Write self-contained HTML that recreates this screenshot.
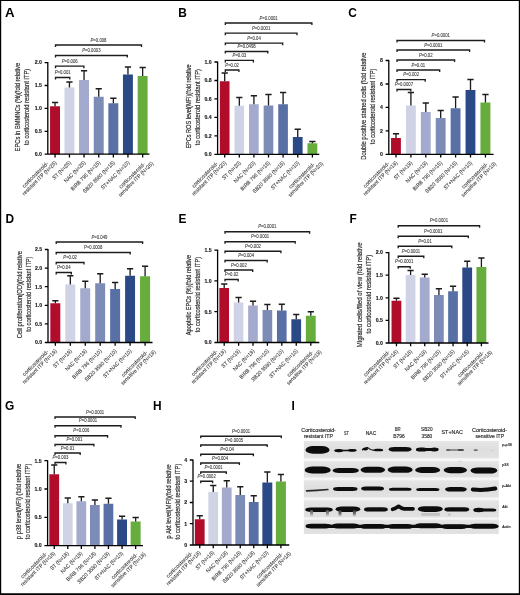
<!DOCTYPE html>
<html><head><meta charset="utf-8"><title>Figure</title>
<style>
html,body{margin:0;padding:0;background:#fff;}
body{width:520px;height:595px;overflow:hidden;font-family:"Liberation Sans",sans-serif;}
svg{display:block;will-change:transform;}
svg text{font-family:"Liberation Sans",sans-serif;}
.L{font-size:11.9px;font-weight:bold;fill:#000;}
.T{font-size:5.2px;font-weight:bold;fill:#161616;stroke:#161616;stroke-width:0.12;text-anchor:end;}
.P{font-size:4.9px;fill:#333;stroke:#333;stroke-width:0.08;text-anchor:middle;}
.I{font-style:italic;}
.Y{font-size:7.0px;fill:#303030;stroke:#303030;stroke-width:0.2;text-anchor:middle;}
.X{font-size:5.4px;fill:#3a3a3a;stroke:#3a3a3a;stroke-width:0.1;text-anchor:end;}
.H{font-size:4.9px;fill:#2a2a2a;stroke:#2a2a2a;stroke-width:0.15;text-anchor:middle;}
.R{font-size:3.7px;fill:#222;stroke:#222;stroke-width:0.15;}
.A{fill:none;stroke:#000;stroke-width:1.3;}
.E{fill:none;stroke:#1a1a1a;stroke-width:1.3;}
.B{fill:none;stroke:#1a1a1a;stroke-width:1.3;}
</style></head><body>
<svg width="520" height="595" viewBox="0 0 520 595">
<defs><filter id="bl" x="-5%" y="-5%" width="110%" height="110%"><feGaussianBlur stdDeviation="0.6"/></filter>
<filter id="soft" x="0" y="0" width="520" height="595" filterUnits="userSpaceOnUse"><feGaussianBlur stdDeviation="0.3"/></filter>
<filter id="bl2" x="-20%" y="-20%" width="140%" height="140%"><feGaussianBlur stdDeviation="0.7"/></filter>
<linearGradient id="sm1" x1="0" y1="0" x2="0" y2="1"><stop offset="0" stop-color="#555"/><stop offset="0.5" stop-color="#8a8a8a"/><stop offset="1" stop-color="#d8d8d8"/></linearGradient>
<linearGradient id="sm2" x1="0" y1="0" x2="0" y2="1"><stop offset="0" stop-color="#333"/><stop offset="0.5" stop-color="#666"/><stop offset="1" stop-color="#cfcfcf"/></linearGradient>
<linearGradient id="sg" x1="0" y1="0" x2="0" y2="1"><stop offset="0" stop-color="#e6e6e6"/><stop offset="0.5" stop-color="#dedede"/><stop offset="1" stop-color="#e2e2e2"/></linearGradient></defs>
<rect x="0" y="0" width="520" height="595" fill="#fff"/>
<g filter="url(#soft)">
<g>
<text x="4.9" y="16.9" class="L" textLength="9.6" lengthAdjust="spacingAndGlyphs">A</text>
<rect x="50.05" y="106.25" width="9.95" height="47.95" fill="#b10a2c"/>
<path d="M55.05 106.25V102.5M51.95 102.5H58.15" class="E"/>
<rect x="64.45" y="87.5" width="9.95" height="66.7" fill="#d0d3e5"/>
<path d="M69.45 87.5V82M66.35 82H72.55" class="E"/>
<rect x="79.05" y="80" width="9.95" height="74.2" fill="#a4aacd"/>
<path d="M84.05 80V70.75M80.95 70.75H87.15" class="E"/>
<rect x="93.75" y="96.75" width="9.95" height="57.45" fill="#7d8cb6"/>
<path d="M98.75 96.75V88.75M95.65 88.75H101.85" class="E"/>
<rect x="108.35" y="103.25" width="9.95" height="50.95" fill="#5870a5"/>
<path d="M113.35 103.25V98.25M110.25 98.25H116.45" class="E"/>
<rect x="122.95" y="74.5" width="9.95" height="79.7" fill="#2a4a86"/>
<path d="M127.95 74.5V67M124.85 67H131.05" class="E"/>
<rect x="137.65" y="76" width="9.95" height="78.2" fill="#66ad3c"/>
<path d="M142.65 76V67.5M139.55 67.5H145.75" class="E"/>
<path d="M47.8 62.1V154.2H149.5M47.8 154.2H44.6M47.8 131.3H44.6M47.8 108.4H44.6M47.8 85.5H44.6M47.8 62.6H44.6M55.05 154.2V157.5M69.45 154.2V157.5M84.05 154.2V157.5M98.75 154.2V157.5M113.35 154.2V157.5M127.95 154.2V157.5M142.65 154.2V157.5" class="A"/>
<text x="41.9" y="156.05" class="T">0.0</text>
<text x="41.9" y="133.15" class="T">0.5</text>
<text x="41.9" y="110.25" class="T">1.0</text>
<text x="41.9" y="87.35" class="T">1.5</text>
<text x="41.9" y="64.45" class="T">2.0</text>
<path d="M55.5 47.1V45H141.5V47.1" class="B"/>
<text x="98.5" y="41.6" class="P" textLength="15.95" lengthAdjust="spacingAndGlyphs"><tspan class="I">P</tspan>=0.008</text>
<path d="M55.5 57.6V55.5H127.3V57.6" class="B"/>
<text x="91.4" y="52.1" class="P" textLength="18.31" lengthAdjust="spacingAndGlyphs"><tspan class="I">P</tspan>=0.0003</text>
<path d="M55.5 68.3V66.2H83.9V68.3" class="B"/>
<text x="69.7" y="62.8" class="P" textLength="15.95" lengthAdjust="spacingAndGlyphs"><tspan class="I">P</tspan>=0.006</text>
<path d="M55.5 79.6V77.5H69.8V79.6" class="B"/>
<text x="62.65" y="74.1" class="P" textLength="15.95" lengthAdjust="spacingAndGlyphs"><tspan class="I">P</tspan>=0.001</text>
<text transform="translate(20.1 107.15) rotate(-90)" class="Y" textLength="88.5" lengthAdjust="spacingAndGlyphs">EPCs in BMMNCs (%)(fold relative</text>
<text transform="translate(28.8 106.9) rotate(-90)" class="Y" textLength="76.2" lengthAdjust="spacingAndGlyphs">to corticosteroid resistant ITP)</text>
<text transform="translate(48.75 163.7) rotate(-45)" class="X" textLength="34.65" lengthAdjust="spacingAndGlyphs">corticosteroid-</text>
<text transform="translate(56.95 163.1) rotate(-45)" class="X" textLength="46.28" lengthAdjust="spacingAndGlyphs">resistant ITP (N=25)</text>
<text transform="translate(71.35 163.1) rotate(-45)" class="X" textLength="23.93" lengthAdjust="spacingAndGlyphs">ST (N=25)</text>
<text transform="translate(85.95 163.1) rotate(-45)" class="X" textLength="28.22" lengthAdjust="spacingAndGlyphs">NAC (N=25)</text>
<text transform="translate(100.65 163.1) rotate(-45)" class="X" textLength="39.41" lengthAdjust="spacingAndGlyphs">BIRB 796 (N=15)</text>
<text transform="translate(115.25 163.1) rotate(-45)" class="X" textLength="42.85" lengthAdjust="spacingAndGlyphs">SB20 3580 (N=15)</text>
<text transform="translate(129.85 163.1) rotate(-45)" class="X" textLength="37.83" lengthAdjust="spacingAndGlyphs">ST+NAC (N=10)</text>
<text transform="translate(145.45 164.5) rotate(-45)" class="X" textLength="34.65" lengthAdjust="spacingAndGlyphs">corticosteroid-</text>
<text transform="translate(153.65 163.9) rotate(-45)" class="X" textLength="46.86" lengthAdjust="spacingAndGlyphs">sensitive ITP (N=25)</text>
</g>
<g>
<text x="178.2" y="16.9" class="L">B</text>
<rect x="219.85" y="81.25" width="9.65" height="73.05" fill="#b10a2c"/>
<path d="M224.7 81.25V73M221.6 73H227.8" class="E"/>
<rect x="234.45" y="105.75" width="9.65" height="48.55" fill="#d0d3e5"/>
<path d="M239.3 105.75V97.5M236.2 97.5H242.4" class="E"/>
<rect x="249.05" y="104.25" width="9.65" height="50.05" fill="#a4aacd"/>
<path d="M253.9 104.25V95.75M250.8 95.75H257" class="E"/>
<rect x="263.65" y="105.5" width="9.65" height="48.8" fill="#7d8cb6"/>
<path d="M268.5 105.5V94.5M265.4 94.5H271.6" class="E"/>
<rect x="278.25" y="104.25" width="9.65" height="50.05" fill="#5870a5"/>
<path d="M283.1 104.25V92.5M280 92.5H286.2" class="E"/>
<rect x="292.85" y="137" width="9.75" height="17.3" fill="#2a4a86"/>
<path d="M297.75 137V129.25M294.65 129.25H300.85" class="E"/>
<rect x="307.45" y="143.25" width="9.85" height="11.05" fill="#66ad3c"/>
<path d="M312.4 143.25V141.5M309.3 141.5H315.5" class="E"/>
<path d="M217.6 61.5V154.3H319.3M217.6 154.3H214.4M217.6 135.8H214.4M217.6 117.4H214.4M217.6 98.9H214.4M217.6 80.5H214.4M217.6 62H214.4M224.7 154.3V157.6M239.3 154.3V157.6M253.9 154.3V157.6M268.5 154.3V157.6M283.1 154.3V157.6M297.75 154.3V157.6M312.4 154.3V157.6" class="A"/>
<text x="211.7" y="156.15" class="T">0.0</text>
<text x="211.7" y="137.65" class="T">0.2</text>
<text x="211.7" y="119.25" class="T">0.4</text>
<text x="211.7" y="100.75" class="T">0.6</text>
<text x="211.7" y="82.35" class="T">0.8</text>
<text x="211.7" y="63.85" class="T">1.0</text>
<path d="M225.3 25.1V23H311.9V25.1" class="B"/>
<text x="268.6" y="19.6" class="P" textLength="18.31" lengthAdjust="spacingAndGlyphs"><tspan class="I">P</tspan>=0.0001</text>
<path d="M225.3 35.3V33.2H297V35.3" class="B"/>
<text x="261.15" y="29.8" class="P" textLength="18.31" lengthAdjust="spacingAndGlyphs"><tspan class="I">P</tspan>=0.0001</text>
<path d="M225.3 45.3V43.2H282.7V45.3" class="B"/>
<text x="254" y="39.8" class="P" textLength="13.59" lengthAdjust="spacingAndGlyphs"><tspan class="I">P</tspan>=0.04</text>
<path d="M225.3 53.6V51.5H267.8V53.6" class="B"/>
<text x="246.55" y="48.1" class="P" textLength="18.31" lengthAdjust="spacingAndGlyphs"><tspan class="I">P</tspan>=0.0498</text>
<path d="M225.3 62.5V60.4H253.4V62.5" class="B"/>
<text x="239.35" y="57" class="P" textLength="13.59" lengthAdjust="spacingAndGlyphs"><tspan class="I">P</tspan>=0.03</text>
<path d="M225.3 72.1V70H238.9V72.1" class="B"/>
<text x="232.1" y="66.6" class="P" textLength="13.59" lengthAdjust="spacingAndGlyphs"><tspan class="I">P</tspan>=0.02</text>
<text transform="translate(191.3 106.55) rotate(-90)" class="Y" textLength="84.1" lengthAdjust="spacingAndGlyphs">EPCs ROS level(MFI)(fold relative</text>
<text transform="translate(200.2 107.1) rotate(-90)" class="Y" textLength="76.2" lengthAdjust="spacingAndGlyphs">to corticosteroid resistant ITP)</text>
<text transform="translate(218.4 163.8) rotate(-45)" class="X" textLength="34.65" lengthAdjust="spacingAndGlyphs">corticosteroid-</text>
<text transform="translate(226.6 163.2) rotate(-45)" class="X" textLength="46.28" lengthAdjust="spacingAndGlyphs">resistant ITP (N=20)</text>
<text transform="translate(241.2 163.2) rotate(-45)" class="X" textLength="23.93" lengthAdjust="spacingAndGlyphs">ST (N=20)</text>
<text transform="translate(255.8 163.2) rotate(-45)" class="X" textLength="28.22" lengthAdjust="spacingAndGlyphs">NAC (N=20)</text>
<text transform="translate(270.4 163.2) rotate(-45)" class="X" textLength="39.41" lengthAdjust="spacingAndGlyphs">BIRB 796 (N=15)</text>
<text transform="translate(285 163.2) rotate(-45)" class="X" textLength="42.85" lengthAdjust="spacingAndGlyphs">SB20 3580 (N=15)</text>
<text transform="translate(299.65 163.2) rotate(-45)" class="X" textLength="37.83" lengthAdjust="spacingAndGlyphs">ST+NAC (N=10)</text>
<text transform="translate(315.2 164.6) rotate(-45)" class="X" textLength="34.65" lengthAdjust="spacingAndGlyphs">corticosteroid-</text>
<text transform="translate(323.4 164) rotate(-45)" class="X" textLength="46.86" lengthAdjust="spacingAndGlyphs">sensitive ITP (N=20)</text>
</g>
<g>
<text x="348.3" y="16.9" class="L">C</text>
<rect x="391.05" y="138" width="9.85" height="16.3" fill="#b10a2c"/>
<path d="M396 138V133.75M392.9 133.75H399.1" class="E"/>
<rect x="405.95" y="105.5" width="9.85" height="48.8" fill="#d0d3e5"/>
<path d="M410.9 105.5V92.5M407.8 92.5H414" class="E"/>
<rect x="420.85" y="112" width="9.85" height="42.3" fill="#a4aacd"/>
<path d="M425.8 112V103M422.7 103H428.9" class="E"/>
<rect x="435.75" y="118" width="9.85" height="36.3" fill="#7d8cb6"/>
<path d="M440.7 118V110.5M437.6 110.5H443.8" class="E"/>
<rect x="450.65" y="108.25" width="9.85" height="46.05" fill="#5870a5"/>
<path d="M455.6 108.25V97M452.5 97H458.7" class="E"/>
<rect x="465.55" y="90" width="9.85" height="64.3" fill="#2a4a86"/>
<path d="M470.5 90V79.5M467.4 79.5H473.6" class="E"/>
<rect x="480.45" y="102.5" width="9.95" height="51.8" fill="#66ad3c"/>
<path d="M485.45 102.5V94.5M482.35 94.5H488.55" class="E"/>
<path d="M388.8 60V154.3H493.6M388.8 154.3H385.6M388.8 130.9H385.6M388.8 107.4H385.6M388.8 84H385.6M388.8 60.5H385.6M396 154.3V157.6M410.9 154.3V157.6M425.8 154.3V157.6M440.7 154.3V157.6M455.6 154.3V157.6M470.5 154.3V157.6M485.45 154.3V157.6" class="A"/>
<text x="382.9" y="156.15" class="T">0</text>
<text x="382.9" y="132.75" class="T">2</text>
<text x="382.9" y="109.25" class="T">4</text>
<text x="382.9" y="85.85" class="T">6</text>
<text x="382.9" y="62.35" class="T">8</text>
<path d="M397 42.6V40.5H484.5V42.6" class="B"/>
<text x="440.75" y="37.1" class="P" textLength="18.31" lengthAdjust="spacingAndGlyphs"><tspan class="I">P</tspan>=0.0001</text>
<path d="M397 52.1V50H469.6V52.1" class="B"/>
<text x="433.3" y="46.6" class="P" textLength="18.31" lengthAdjust="spacingAndGlyphs"><tspan class="I">P</tspan>=0.0001</text>
<path d="M397 62.1V60H454.6V62.1" class="B"/>
<text x="425.8" y="56.6" class="P" textLength="13.59" lengthAdjust="spacingAndGlyphs"><tspan class="I">P</tspan>=0.02</text>
<path d="M397 72.1V70H439.7V72.1" class="B"/>
<text x="418.35" y="66.6" class="P" textLength="13.59" lengthAdjust="spacingAndGlyphs"><tspan class="I">P</tspan>=0.01</text>
<path d="M397 81.7V79.6H425.2V81.7" class="B"/>
<text x="411.1" y="76.2" class="P" textLength="15.95" lengthAdjust="spacingAndGlyphs"><tspan class="I">P</tspan>=0.002</text>
<path d="M397 91.6V89.5H410.8V91.6" class="B"/>
<text x="403.9" y="86.1" class="P" textLength="18.31" lengthAdjust="spacingAndGlyphs"><tspan class="I">P</tspan>=0.0007</text>
<text transform="translate(365.5 106.15) rotate(-90)" class="Y" textLength="107.3" lengthAdjust="spacingAndGlyphs">Double positive stained cells (fold relative</text>
<text transform="translate(374.6 106.4) rotate(-90)" class="Y" textLength="75.6" lengthAdjust="spacingAndGlyphs">to corticosteroid resistant ITP)</text>
<text transform="translate(389.7 163.8) rotate(-45)" class="X" textLength="34.65" lengthAdjust="spacingAndGlyphs">corticosteroid-</text>
<text transform="translate(397.9 163.2) rotate(-45)" class="X" textLength="46.28" lengthAdjust="spacingAndGlyphs">resistant ITP (N=19)</text>
<text transform="translate(412.8 163.2) rotate(-45)" class="X" textLength="23.93" lengthAdjust="spacingAndGlyphs">ST (N=19)</text>
<text transform="translate(427.7 163.2) rotate(-45)" class="X" textLength="28.22" lengthAdjust="spacingAndGlyphs">NAC (N=19)</text>
<text transform="translate(442.6 163.2) rotate(-45)" class="X" textLength="39.41" lengthAdjust="spacingAndGlyphs">BIRB 796 (N=15)</text>
<text transform="translate(457.5 163.2) rotate(-45)" class="X" textLength="42.85" lengthAdjust="spacingAndGlyphs">SB20 3580 (N=15)</text>
<text transform="translate(472.4 163.2) rotate(-45)" class="X" textLength="37.83" lengthAdjust="spacingAndGlyphs">ST+NAC (N=10)</text>
<text transform="translate(488.25 164.6) rotate(-45)" class="X" textLength="34.65" lengthAdjust="spacingAndGlyphs">corticosteroid-</text>
<text transform="translate(496.45 164) rotate(-45)" class="X" textLength="46.86" lengthAdjust="spacingAndGlyphs">sensitive ITP (N=19)</text>
</g>
<g>
<text x="5.4" y="222.6" class="L">D</text>
<rect x="50.35" y="303.25" width="9.95" height="39.25" fill="#b10a2c"/>
<path d="M55.35 303.25V300.75M52.25 300.75H58.45" class="E"/>
<rect x="65.3" y="284.5" width="9.95" height="58" fill="#d0d3e5"/>
<path d="M70.3 284.5V275.75M67.2 275.75H73.4" class="E"/>
<rect x="80.25" y="288.25" width="9.95" height="54.25" fill="#a4aacd"/>
<path d="M85.25 288.25V281.25M82.15 281.25H88.35" class="E"/>
<rect x="95.2" y="283.25" width="9.95" height="59.25" fill="#7d8cb6"/>
<path d="M100.2 283.25V273.75M97.1 273.75H103.3" class="E"/>
<rect x="110.15" y="289" width="9.95" height="53.5" fill="#5870a5"/>
<path d="M115.15 289V282.5M112.05 282.5H118.25" class="E"/>
<rect x="125.1" y="275.75" width="9.95" height="66.75" fill="#2a4a86"/>
<path d="M130.1 275.75V268.75M127 268.75H133.2" class="E"/>
<rect x="140.05" y="276.25" width="10.05" height="66.25" fill="#66ad3c"/>
<path d="M145.1 276.25V266.25M142 266.25H148.2" class="E"/>
<path d="M48 249V342.5H152.5M48 342.5H44.8M48 323.9H44.8M48 305.3H44.8M48 286.7H44.8M48 268.1H44.8M48 249.5H44.8M55.35 342.5V345.8M70.3 342.5V345.8M85.25 342.5V345.8M100.2 342.5V345.8M115.15 342.5V345.8M130.1 342.5V345.8M145.1 342.5V345.8" class="A"/>
<text x="42.1" y="344.35" class="T">0.0</text>
<text x="42.1" y="325.75" class="T">0.5</text>
<text x="42.1" y="307.15" class="T">1.0</text>
<text x="42.1" y="288.55" class="T">1.5</text>
<text x="42.1" y="269.95" class="T">2.0</text>
<text x="42.1" y="251.35" class="T">2.5</text>
<path d="M56.2 244.1V242H142.6V244.1" class="B"/>
<text x="99.4" y="238.6" class="P" textLength="15.95" lengthAdjust="spacingAndGlyphs"><tspan class="I">P</tspan>=0.049</text>
<path d="M56.2 254.6V252.5H130.2V254.6" class="B"/>
<text x="93.2" y="249.1" class="P" textLength="18.31" lengthAdjust="spacingAndGlyphs"><tspan class="I">P</tspan>=0.0008</text>
<path d="M56.2 264.6V262.5H84V264.6" class="B"/>
<text x="70.1" y="259.1" class="P" textLength="13.59" lengthAdjust="spacingAndGlyphs"><tspan class="I">P</tspan>=0.02</text>
<path d="M56.2 274.6V272.5H71.3V274.6" class="B"/>
<text x="63.75" y="269.1" class="P" textLength="13.59" lengthAdjust="spacingAndGlyphs"><tspan class="I">P</tspan>=0.04</text>
<text transform="translate(21.6 294.6) rotate(-90)" class="Y" textLength="87.2" lengthAdjust="spacingAndGlyphs">Cell proliferation(OD)(fold relative</text>
<text transform="translate(30.7 294.1) rotate(-90)" class="Y" textLength="75.2" lengthAdjust="spacingAndGlyphs">to corticosteroid resistant ITP)</text>
<text transform="translate(49.05 352) rotate(-45)" class="X" textLength="34.65" lengthAdjust="spacingAndGlyphs">corticosteroid-</text>
<text transform="translate(57.25 351.4) rotate(-45)" class="X" textLength="46.28" lengthAdjust="spacingAndGlyphs">resistant ITP (N=19)</text>
<text transform="translate(72.2 351.4) rotate(-45)" class="X" textLength="23.93" lengthAdjust="spacingAndGlyphs">ST (N=19)</text>
<text transform="translate(87.15 351.4) rotate(-45)" class="X" textLength="28.22" lengthAdjust="spacingAndGlyphs">NAC (N=19)</text>
<text transform="translate(102.1 351.4) rotate(-45)" class="X" textLength="39.41" lengthAdjust="spacingAndGlyphs">BIRB 796 (N=10)</text>
<text transform="translate(117.05 351.4) rotate(-45)" class="X" textLength="42.85" lengthAdjust="spacingAndGlyphs">SB20 3580 (N=10)</text>
<text transform="translate(132 351.4) rotate(-45)" class="X" textLength="37.83" lengthAdjust="spacingAndGlyphs">ST+NAC (N=10)</text>
<text transform="translate(147.9 352.8) rotate(-45)" class="X" textLength="34.65" lengthAdjust="spacingAndGlyphs">corticosteroid-</text>
<text transform="translate(156.1 352.2) rotate(-45)" class="X" textLength="46.86" lengthAdjust="spacingAndGlyphs">sensitive ITP (N=19)</text>
</g>
<g>
<text x="178.4" y="222.7" class="L">E</text>
<rect x="219.35" y="288" width="9.65" height="54.5" fill="#b10a2c"/>
<path d="M224.2 288V284M221.1 284H227.3" class="E"/>
<rect x="233.75" y="302.5" width="9.65" height="40" fill="#d0d3e5"/>
<path d="M238.6 302.5V297.5M235.5 297.5H241.7" class="E"/>
<rect x="248.15" y="305.5" width="9.65" height="37" fill="#a4aacd"/>
<path d="M253 305.5V301.25M249.9 301.25H256.1" class="E"/>
<rect x="262.55" y="310" width="9.65" height="32.5" fill="#7d8cb6"/>
<path d="M267.4 310V304.5M264.3 304.5H270.5" class="E"/>
<rect x="276.95" y="310.5" width="9.65" height="32" fill="#5870a5"/>
<path d="M281.8 310.5V304.25M278.7 304.25H284.9" class="E"/>
<rect x="291.35" y="319.25" width="9.75" height="23.25" fill="#2a4a86"/>
<path d="M296.25 319.25V314.5M293.15 314.5H299.35" class="E"/>
<rect x="305.85" y="315.75" width="9.85" height="26.75" fill="#66ad3c"/>
<path d="M310.8 315.75V311.75M307.7 311.75H313.9" class="E"/>
<path d="M217.6 249.6V342.5H319.3M217.6 342.5H214.4M217.6 311.7H214.4M217.6 280.9H214.4M217.6 250.1H214.4M224.2 342.5V345.8M238.6 342.5V345.8M253 342.5V345.8M267.4 342.5V345.8M281.8 342.5V345.8M296.25 342.5V345.8M310.8 342.5V345.8" class="A"/>
<text x="211.7" y="344.35" class="T">0.0</text>
<text x="211.7" y="313.55" class="T">0.5</text>
<text x="211.7" y="282.75" class="T">1.0</text>
<text x="211.7" y="251.95" class="T">1.5</text>
<path d="M225 233.85V231.75H309.6V233.85" class="B"/>
<text x="267.3" y="228.35" class="P" textLength="18.31" lengthAdjust="spacingAndGlyphs"><tspan class="I">P</tspan>=0.0001</text>
<path d="M225 243.85V241.75H295.2V243.85" class="B"/>
<text x="260.1" y="238.35" class="P" textLength="18.31" lengthAdjust="spacingAndGlyphs"><tspan class="I">P</tspan>=0.0001</text>
<path d="M225 253.35V251.25H280.9V253.35" class="B"/>
<text x="252.95" y="247.85" class="P" textLength="15.95" lengthAdjust="spacingAndGlyphs"><tspan class="I">P</tspan>=0.002</text>
<path d="M225 262.6V260.5H267.2V262.6" class="B"/>
<text x="246.1" y="257.1" class="P" textLength="15.95" lengthAdjust="spacingAndGlyphs"><tspan class="I">P</tspan>=0.004</text>
<path d="M225 272.1V270H252.7V272.1" class="B"/>
<text x="238.85" y="266.6" class="P" textLength="15.95" lengthAdjust="spacingAndGlyphs"><tspan class="I">P</tspan>=0.002</text>
<path d="M225 281.6V279.5H238.2V281.6" class="B"/>
<text x="231.6" y="276.1" class="P" textLength="13.59" lengthAdjust="spacingAndGlyphs"><tspan class="I">P</tspan>=0.02</text>
<text transform="translate(191.3 295.1) rotate(-90)" class="Y" textLength="80.2" lengthAdjust="spacingAndGlyphs">Apoptotic EPCs (%)(fold relative</text>
<text transform="translate(200.3 294.55) rotate(-90)" class="Y" textLength="75.5" lengthAdjust="spacingAndGlyphs">to corticosteroid resistant ITP)</text>
<text transform="translate(217.9 352) rotate(-45)" class="X" textLength="34.65" lengthAdjust="spacingAndGlyphs">corticosteroid-</text>
<text transform="translate(226.1 351.4) rotate(-45)" class="X" textLength="46.28" lengthAdjust="spacingAndGlyphs">resistant ITP (N=19)</text>
<text transform="translate(240.5 351.4) rotate(-45)" class="X" textLength="23.93" lengthAdjust="spacingAndGlyphs">ST (N=19)</text>
<text transform="translate(254.9 351.4) rotate(-45)" class="X" textLength="28.22" lengthAdjust="spacingAndGlyphs">NAC (N=19)</text>
<text transform="translate(269.3 351.4) rotate(-45)" class="X" textLength="39.41" lengthAdjust="spacingAndGlyphs">BIRB 796 (N=10)</text>
<text transform="translate(283.7 351.4) rotate(-45)" class="X" textLength="42.85" lengthAdjust="spacingAndGlyphs">SB20 3580 (N=10)</text>
<text transform="translate(298.15 351.4) rotate(-45)" class="X" textLength="37.83" lengthAdjust="spacingAndGlyphs">ST+NAC (N=10)</text>
<text transform="translate(313.6 352.8) rotate(-45)" class="X" textLength="34.65" lengthAdjust="spacingAndGlyphs">corticosteroid-</text>
<text transform="translate(321.8 352.2) rotate(-45)" class="X" textLength="46.86" lengthAdjust="spacingAndGlyphs">sensitive ITP (N=19)</text>
</g>
<g>
<text x="349.6" y="222.6" class="L">F</text>
<rect x="391.55" y="300.75" width="9.75" height="42.25" fill="#b10a2c"/>
<path d="M396.45 300.75V298.25M393.35 298.25H399.55" class="E"/>
<rect x="405.7" y="275" width="9.75" height="68" fill="#d0d3e5"/>
<path d="M410.6 275V270.5M407.5 270.5H413.7" class="E"/>
<rect x="419.85" y="277.5" width="9.75" height="65.5" fill="#a4aacd"/>
<path d="M424.75 277.5V274.25M421.65 274.25H427.85" class="E"/>
<rect x="434" y="295" width="9.75" height="48" fill="#7d8cb6"/>
<path d="M438.9 295V288.75M435.8 288.75H442" class="E"/>
<rect x="448.15" y="291.25" width="9.75" height="51.75" fill="#5870a5"/>
<path d="M453.05 291.25V286.25M449.95 286.25H456.15" class="E"/>
<rect x="462.3" y="267.5" width="9.8" height="75.5" fill="#2a4a86"/>
<path d="M467.23 267.5V261.25M464.12 261.25H470.33" class="E"/>
<rect x="476.45" y="267" width="9.85" height="76" fill="#66ad3c"/>
<path d="M481.4 267V258M478.3 258H484.5" class="E"/>
<path d="M388.8 252.1V343H488.5M388.8 343H385.6M388.8 320.4H385.6M388.8 297.8H385.6M388.8 275.2H385.6M388.8 252.6H385.6M396.45 343V346.3M410.6 343V346.3M424.75 343V346.3M438.9 343V346.3M453.05 343V346.3M467.23 343V346.3M481.4 343V346.3" class="A"/>
<text x="382.9" y="344.85" class="T">0.0</text>
<text x="382.9" y="322.25" class="T">0.5</text>
<text x="382.9" y="299.65" class="T">1.0</text>
<text x="382.9" y="277.05" class="T">1.5</text>
<text x="382.9" y="254.45" class="T">2.0</text>
<path d="M398.2 227.85V225.75H479.6V227.85" class="B"/>
<text x="438.9" y="222.35" class="P" textLength="18.31" lengthAdjust="spacingAndGlyphs"><tspan class="I">P</tspan>=0.0001</text>
<path d="M398.2 238.35V236.25H468.3V238.35" class="B"/>
<text x="433.25" y="232.85" class="P" textLength="18.31" lengthAdjust="spacingAndGlyphs"><tspan class="I">P</tspan>=0.0001</text>
<path d="M398.2 248.35V246.25H451.8V248.35" class="B"/>
<text x="425" y="242.85" class="P" textLength="13.59" lengthAdjust="spacingAndGlyphs"><tspan class="I">P</tspan>=0.01</text>
<path d="M398.2 258.35V256.25H423.8V258.35" class="B"/>
<text x="411" y="252.85" class="P" textLength="18.31" lengthAdjust="spacingAndGlyphs"><tspan class="I">P</tspan>=0.0001</text>
<path d="M398.2 268.85V266.75H410.2V268.85" class="B"/>
<text x="404.2" y="263.35" class="P" textLength="18.31" lengthAdjust="spacingAndGlyphs"><tspan class="I">P</tspan>=0.0001</text>
<text transform="translate(361.7 294.85) rotate(-90)" class="Y" textLength="104.7" lengthAdjust="spacingAndGlyphs">Migrated cells/filed of view (fold relative</text>
<text transform="translate(370.8 294.1) rotate(-90)" class="Y" textLength="78.8" lengthAdjust="spacingAndGlyphs">to corticosteroid resistant ITP)</text>
<text transform="translate(390.15 352.5) rotate(-45)" class="X" textLength="34.65" lengthAdjust="spacingAndGlyphs">corticosteroid-</text>
<text transform="translate(398.35 351.9) rotate(-45)" class="X" textLength="46.28" lengthAdjust="spacingAndGlyphs">resistant ITP (N=18)</text>
<text transform="translate(412.5 351.9) rotate(-45)" class="X" textLength="23.93" lengthAdjust="spacingAndGlyphs">ST (N=18)</text>
<text transform="translate(426.65 351.9) rotate(-45)" class="X" textLength="28.22" lengthAdjust="spacingAndGlyphs">NAC (N=18)</text>
<text transform="translate(440.8 351.9) rotate(-45)" class="X" textLength="39.41" lengthAdjust="spacingAndGlyphs">BIRB 796 (N=15)</text>
<text transform="translate(454.95 351.9) rotate(-45)" class="X" textLength="42.85" lengthAdjust="spacingAndGlyphs">SB20 3580 (N=15)</text>
<text transform="translate(469.12 351.9) rotate(-45)" class="X" textLength="37.83" lengthAdjust="spacingAndGlyphs">ST+NAC (N=15)</text>
<text transform="translate(484.2 353.3) rotate(-45)" class="X" textLength="34.65" lengthAdjust="spacingAndGlyphs">corticosteroid-</text>
<text transform="translate(492.4 352.7) rotate(-45)" class="X" textLength="46.86" lengthAdjust="spacingAndGlyphs">sensitive ITP (N=18)</text>
</g>
<g>
<text x="5" y="409.7" class="L">G</text>
<rect x="49.35" y="474.25" width="9.75" height="71.35" fill="#b10a2c"/>
<path d="M54.25 474.25V465M51.15 465H57.35" class="E"/>
<rect x="62.9" y="503.25" width="9.75" height="42.35" fill="#d0d3e5"/>
<path d="M67.8 503.25V498M64.7 498H70.9" class="E"/>
<rect x="76.45" y="501.25" width="9.75" height="44.35" fill="#a4aacd"/>
<path d="M81.35 501.25V496.75M78.25 496.75H84.45" class="E"/>
<rect x="90" y="505" width="9.75" height="40.6" fill="#7d8cb6"/>
<path d="M94.9 505V500M91.8 500H98" class="E"/>
<rect x="103.55" y="503.75" width="9.75" height="41.85" fill="#5870a5"/>
<path d="M108.45 503.75V498.25M105.35 498.25H111.55" class="E"/>
<rect x="117.1" y="519.5" width="9.9" height="26.1" fill="#2a4a86"/>
<path d="M122.08 519.5V516.25M118.98 516.25H125.17" class="E"/>
<rect x="130.65" y="521.5" width="9.95" height="24.1" fill="#66ad3c"/>
<path d="M135.65 521.5V517.5M132.55 517.5H138.75" class="E"/>
<path d="M47.6 460.2V545.6H143M47.6 545.6H44.4M47.6 517.3H44.4M47.6 489H44.4M47.6 460.7H44.4M54.25 545.6V548.9M67.8 545.6V548.9M81.35 545.6V548.9M94.9 545.6V548.9M108.45 545.6V548.9M122.08 545.6V548.9M135.65 545.6V548.9" class="A"/>
<text x="41.7" y="547.45" class="T">0.0</text>
<text x="41.7" y="519.15" class="T">0.5</text>
<text x="41.7" y="490.85" class="T">1.0</text>
<text x="41.7" y="462.55" class="T">1.5</text>
<path d="M55 419.1V417H135.2V419.1" class="B"/>
<text x="95.1" y="413.6" class="P" textLength="18.31" lengthAdjust="spacingAndGlyphs"><tspan class="I">P</tspan>=0.0001</text>
<path d="M55 427.85V425.75H121V427.85" class="B"/>
<text x="88" y="422.35" class="P" textLength="18.31" lengthAdjust="spacingAndGlyphs"><tspan class="I">P</tspan>=0.0001</text>
<path d="M55 437.85V435.75H107.6V437.85" class="B"/>
<text x="81.3" y="432.35" class="P" textLength="15.95" lengthAdjust="spacingAndGlyphs"><tspan class="I">P</tspan>=0.006</text>
<path d="M55 446.6V444.5H93.9V446.6" class="B"/>
<text x="74.45" y="441.1" class="P" textLength="15.95" lengthAdjust="spacingAndGlyphs"><tspan class="I">P</tspan>=0.001</text>
<path d="M55 455.1V453H80.2V455.1" class="B"/>
<text x="67.6" y="449.6" class="P" textLength="13.59" lengthAdjust="spacingAndGlyphs"><tspan class="I">P</tspan>=0.01</text>
<path d="M55 464.6V462.5H65.9V464.6" class="B"/>
<text x="60.45" y="459.1" class="P" textLength="15.95" lengthAdjust="spacingAndGlyphs"><tspan class="I">P</tspan>=0.003</text>
<text transform="translate(21 501.45) rotate(-90)" class="Y" textLength="75.5" lengthAdjust="spacingAndGlyphs">p p38 level(MFI) (fold relative</text>
<text transform="translate(30.3 501.45) rotate(-90)" class="Y" textLength="75.5" lengthAdjust="spacingAndGlyphs">to corticosteroid resistant ITP)</text>
<text transform="translate(47.35 554.3) rotate(-45)" class="X" textLength="34.65" lengthAdjust="spacingAndGlyphs">corticosteroid-</text>
<text transform="translate(55.55 553.7) rotate(-45)" class="X" textLength="46.28" lengthAdjust="spacingAndGlyphs">resistant ITP (N=18)</text>
<text transform="translate(69.1 553.7) rotate(-45)" class="X" textLength="23.93" lengthAdjust="spacingAndGlyphs">ST (N=18)</text>
<text transform="translate(82.65 553.7) rotate(-45)" class="X" textLength="28.22" lengthAdjust="spacingAndGlyphs">NAC (N=18)</text>
<text transform="translate(96.2 553.7) rotate(-45)" class="X" textLength="39.41" lengthAdjust="spacingAndGlyphs">BIRB 796 (N=18)</text>
<text transform="translate(109.75 553.7) rotate(-45)" class="X" textLength="42.85" lengthAdjust="spacingAndGlyphs">SB20 3580 (N=18)</text>
<text transform="translate(123.38 553.7) rotate(-45)" class="X" textLength="37.83" lengthAdjust="spacingAndGlyphs">ST+NAC (N=10)</text>
<text transform="translate(137.85 555.1) rotate(-45)" class="X" textLength="34.65" lengthAdjust="spacingAndGlyphs">corticosteroid-</text>
<text transform="translate(146.05 554.5) rotate(-45)" class="X" textLength="46.86" lengthAdjust="spacingAndGlyphs">sensitive ITP (N=18)</text>
</g>
<g>
<text x="153" y="409.7" class="L">H</text>
<rect x="194.85" y="519.25" width="9.75" height="25.75" fill="#b10a2c"/>
<path d="M199.75 519.25V515.75M196.65 515.75H202.85" class="E"/>
<rect x="208.35" y="492" width="9.75" height="53" fill="#d0d3e5"/>
<path d="M213.25 492V485.5M210.15 485.5H216.35" class="E"/>
<rect x="221.85" y="487.5" width="9.75" height="57.5" fill="#a4aacd"/>
<path d="M226.75 487.5V480.75M223.65 480.75H229.85" class="E"/>
<rect x="235.35" y="495" width="9.75" height="50" fill="#7d8cb6"/>
<path d="M240.25 495V486.75M237.15 486.75H243.35" class="E"/>
<rect x="248.85" y="502" width="9.75" height="43" fill="#5870a5"/>
<path d="M253.75 502V495.75M250.65 495.75H256.85" class="E"/>
<rect x="262.35" y="482.5" width="9.95" height="62.5" fill="#2a4a86"/>
<path d="M267.35 482.5V472M264.25 472H270.45" class="E"/>
<rect x="275.85" y="481.5" width="10.05" height="63.5" fill="#66ad3c"/>
<path d="M280.9 481.5V474.5M277.8 474.5H284" class="E"/>
<path d="M193 459.5V545H289.3M193 545H189.8M193 523.7H189.8M193 502.5H189.8M193 481.2H189.8M193 460H189.8M199.75 545V548.3M213.25 545V548.3M226.75 545V548.3M240.25 545V548.3M253.75 545V548.3M267.35 545V548.3M280.9 545V548.3" class="A"/>
<text x="187.1" y="546.85" class="T">0</text>
<text x="187.1" y="525.55" class="T">1</text>
<text x="187.1" y="504.35" class="T">2</text>
<text x="187.1" y="483.05" class="T">3</text>
<text x="187.1" y="461.85" class="T">4</text>
<path d="M200.75 438.35V436.25H281.3V438.35" class="B"/>
<text x="241.03" y="432.85" class="P" textLength="18.31" lengthAdjust="spacingAndGlyphs"><tspan class="I">P</tspan>=0.0001</text>
<path d="M200.75 447.1V445H267.2V447.1" class="B"/>
<text x="233.97" y="441.6" class="P" textLength="18.31" lengthAdjust="spacingAndGlyphs"><tspan class="I">P</tspan>=0.0005</text>
<path d="M200.75 456.35V454.25H253.4V456.35" class="B"/>
<text x="227.07" y="450.85" class="P" textLength="13.59" lengthAdjust="spacingAndGlyphs"><tspan class="I">P</tspan>=0.04</text>
<path d="M200.75 465.1V463H239.4V465.1" class="B"/>
<text x="220.07" y="459.6" class="P" textLength="15.95" lengthAdjust="spacingAndGlyphs"><tspan class="I">P</tspan>=0.004</text>
<path d="M200.75 474.1V472H226.3V474.1" class="B"/>
<text x="213.53" y="468.6" class="P" textLength="18.31" lengthAdjust="spacingAndGlyphs"><tspan class="I">P</tspan>=0.0001</text>
<path d="M200.75 483.35V481.25H212.6V483.35" class="B"/>
<text x="206.68" y="477.85" class="P" textLength="18.31" lengthAdjust="spacingAndGlyphs"><tspan class="I">P</tspan>=0.0002</text>
<text transform="translate(171 501.55) rotate(-90)" class="Y" textLength="74.5" lengthAdjust="spacingAndGlyphs">p Akt level(MFI)(fold relative</text>
<text transform="translate(180.3 501.55) rotate(-90)" class="Y" textLength="75.7" lengthAdjust="spacingAndGlyphs">to corticosteroid resistant ITP)</text>
<text transform="translate(192.85 553.7) rotate(-45)" class="X" textLength="34.65" lengthAdjust="spacingAndGlyphs">corticosteroid-</text>
<text transform="translate(201.05 553.1) rotate(-45)" class="X" textLength="46.28" lengthAdjust="spacingAndGlyphs">resistant ITP (N=18)</text>
<text transform="translate(214.55 553.1) rotate(-45)" class="X" textLength="23.93" lengthAdjust="spacingAndGlyphs">ST (N=18)</text>
<text transform="translate(228.05 553.1) rotate(-45)" class="X" textLength="28.22" lengthAdjust="spacingAndGlyphs">NAC (N=18)</text>
<text transform="translate(241.55 553.1) rotate(-45)" class="X" textLength="39.41" lengthAdjust="spacingAndGlyphs">BIRB 796 (N=18)</text>
<text transform="translate(255.05 553.1) rotate(-45)" class="X" textLength="42.85" lengthAdjust="spacingAndGlyphs">SB20 3580 (N=18)</text>
<text transform="translate(268.65 553.1) rotate(-45)" class="X" textLength="37.83" lengthAdjust="spacingAndGlyphs">ST+NAC (N=10)</text>
<text transform="translate(283.1 554.5) rotate(-45)" class="X" textLength="34.65" lengthAdjust="spacingAndGlyphs">corticosteroid-</text>
<text transform="translate(291.3 553.9) rotate(-45)" class="X" textLength="46.86" lengthAdjust="spacingAndGlyphs">sensitive ITP (N=18)</text>
</g>
<g>
<text x="291.5" y="409.7" class="L">I</text>
<text x="318.6" y="432.3" class="H" textLength="34.6" lengthAdjust="spacingAndGlyphs">Corticosteroid-</text>
<text x="318.4" y="438.3" class="H" textLength="29" lengthAdjust="spacingAndGlyphs">resistant ITP</text>
<text x="346.5" y="434.6" class="H" textLength="4.8" lengthAdjust="spacingAndGlyphs">ST</text>
<text x="371" y="434.6" class="H" textLength="10.6" lengthAdjust="spacingAndGlyphs">NAC</text>
<text x="397.7" y="431.1" class="H" textLength="5.8" lengthAdjust="spacingAndGlyphs">BIR</text>
<text x="399" y="437.6" class="H" textLength="11.4" lengthAdjust="spacingAndGlyphs">B796</text>
<text x="426.8" y="431.1" class="H" textLength="11.5" lengthAdjust="spacingAndGlyphs">SB20</text>
<text x="426.9" y="437.6" class="H" textLength="10.6" lengthAdjust="spacingAndGlyphs">3580</text>
<text x="452.2" y="434.2" class="H" textLength="21.3" lengthAdjust="spacingAndGlyphs">ST+NAC</text>
<text x="489.6" y="432" class="H" textLength="35" lengthAdjust="spacingAndGlyphs">Corticosteroid-</text>
<text x="489.7" y="438.3" class="H" textLength="28.6" lengthAdjust="spacingAndGlyphs">sensitive ITP</text>
<rect x="303.9" y="440.9" width="194.9" height="93.1" fill="#f6f6f6"/>
<rect x="303.9" y="440.9" width="194.9" height="17.2" fill="url(#sg)"/>
<rect x="303.9" y="461.2" width="194.9" height="16.2" fill="url(#sg)"/>
<rect x="303.9" y="480.3" width="194.9" height="17.1" fill="url(#sg)"/>
<rect x="303.9" y="500.2" width="194.9" height="17.3" fill="url(#sg)"/>
<rect x="303.9" y="519.6" width="194.9" height="14.4" fill="url(#sg)"/>
<g filter="url(#bl)" fill="#0b0b0b">
<rect x="305.5" y="446.1" width="24" height="7.6" rx="7.6" ry="3.8"/>
<rect x="334.4" y="449.75" width="22.1" height="1.5" rx="1.8" ry="0.75"/>
<rect x="334.4" y="449" width="8.8" height="3.2" rx="3.84" ry="1.6"/>
<rect x="348" y="448.9" width="8.5" height="2.8" rx="3.36" ry="1.4"/>
<path d="M362.4 449.9Q365 447.2 367.6 447.6Q371 450.4 374.5 450.3L382.6 450.3" fill="none" stroke="#0b0b0b" stroke-width="1.2" stroke-linecap="round"/>
<rect x="362.3" y="447.7" width="5.9" height="2.8" rx="2.95" ry="1.4"/>
<rect x="374" y="448.7" width="8.8" height="2.6" rx="3.12" ry="1.3"/>
<rect x="388.7" y="446.95" width="22.8" height="4.6" rx="5.52" ry="2.3"/>
<rect x="416" y="447.9" width="22.5" height="3.2" rx="3.84" ry="1.6"/>
<rect x="416" y="447.4" width="11.5" height="4" rx="4.8" ry="2"/>
<rect x="430" y="447.6" width="8.5" height="3.8" rx="4.25" ry="1.9"/>
<rect x="446" y="449.2" width="18" height="1.6" rx="1.92" ry="0.8" fill="#777"/>
<rect x="457.5" y="449" width="6.5" height="2" rx="2.4" ry="1" fill="#4a4a4a"/>
<rect x="446" y="449.1" width="4.5" height="1.8" rx="2.16" ry="0.9" fill="#666"/>
<rect x="473.5" y="449.2" width="4.5" height="1.8" rx="2.16" ry="0.9" fill="#666"/>
<rect x="490.6" y="449.9" width="3.8" height="1.4" rx="1.68" ry="0.7" fill="#cfcfcf"/>
<rect x="458" y="460.7" width="3.5" height="1" rx="1.2" ry="0.5" fill="#cfcfcf"/>
<rect x="304.7" y="466.4" width="26" height="7.2" rx="8.64" ry="3.6"/>
<rect x="332.7" y="467.9" width="26.1" height="5.2" rx="6.24" ry="2.6"/>
<rect x="360.6" y="466.8" width="24.5" height="6" rx="7.2" ry="3"/>
<rect x="387.7" y="466.6" width="24.9" height="6.2" rx="7.44" ry="3.1"/>
<rect x="415.2" y="467" width="24.9" height="6" rx="7.2" ry="3"/>
<rect x="443.7" y="467" width="23.3" height="6.2" rx="7.44" ry="3.1"/>
<rect x="470.6" y="467.4" width="26.7" height="6.2" rx="7.44" ry="3.1"/>
<path d="M306.6 490.8Q317 490.6 327.8 489.5" fill="none" stroke="#2a2a2a" stroke-width="1.7" stroke-linecap="round"/>
<rect x="333.1" y="487.1" width="24.4" height="3.8" rx="4.56" ry="1.9"/>
<rect x="361.2" y="486.5" width="22.8" height="4" rx="4.8" ry="2"/>
<rect x="389" y="487.65" width="22.5" height="3.1" rx="3.72" ry="1.55"/>
<rect x="416.2" y="488" width="23.2" height="3" rx="3.6" ry="1.5"/>
<rect x="445" y="487.05" width="21.9" height="4.5" rx="5.4" ry="2.25"/>
<path d="M472.8 489.5Q484 490.6 495.3 488.5" fill="none" stroke="#0b0b0b" stroke-width="4" stroke-linecap="round"/>
<rect x="305.2" y="507.4" width="27.6" height="4.6" rx="5.52" ry="2.3"/>
<rect x="335.6" y="506.5" width="24.7" height="5.4" rx="6.48" ry="2.7"/>
<rect x="364" y="507.3" width="23.8" height="4.2" rx="5.04" ry="2.1"/>
<path d="M392.6 509.3Q395.5 508.6 398.6 506.3Q401.5 508.6 404 508.8L413 508.8" fill="none" stroke="#0b0b0b" stroke-width="3.7" stroke-linecap="round" stroke-linejoin="round"/>
<rect x="417.7" y="506.3" width="25.1" height="5.6" rx="6.72" ry="2.8"/>
<rect x="444.4" y="507.3" width="24.8" height="4.2" rx="5.04" ry="2.1"/>
<rect x="473.5" y="508.5" width="22.8" height="3" rx="3.6" ry="1.5"/>
<rect x="473.5" y="507.8" width="10.5" height="4.4" rx="5.25" ry="2.2"/>
</g><g filter="url(#bl2)">
<rect x="310.1" y="510" width="3" height="6.4" rx="1.3" fill="url(#sm1)"/>
<rect x="325.9" y="510" width="3" height="6.4" rx="1.3" fill="url(#sm1)"/>
<rect x="338.5" y="510" width="3" height="6.4" rx="1.3" fill="url(#sm2)"/>
<rect x="352.9" y="510" width="3" height="6.4" rx="1.3" fill="url(#sm2)"/>
<rect x="421" y="513" width="19" height="2.8" rx="1.3" fill="#c2c2c2"/>
<rect x="447.5" y="513.6" width="3.5" height="2" rx="1" fill="#c0c0c0"/>
</g><g filter="url(#bl)" fill="#0b0b0b">
<rect x="306" y="524.7" width="192" height="3.4" rx="2.55" ry="1.7"/>
<rect x="305.5" y="523.65" width="26" height="4.9" rx="5.88" ry="2.45"/>
<rect x="331.5" y="523.55" width="28" height="4.9" rx="5.88" ry="2.45"/>
<rect x="360" y="523.95" width="26.5" height="4.9" rx="5.88" ry="2.45"/>
<rect x="387.6" y="523.95" width="25.6" height="4.9" rx="5.88" ry="2.45"/>
<rect x="414.8" y="523.35" width="26.8" height="4.9" rx="5.88" ry="2.45"/>
<rect x="441" y="524.15" width="26.6" height="4.9" rx="5.88" ry="2.45"/>
<rect x="469.2" y="523.85" width="29.4" height="4.9" rx="5.88" ry="2.45"/>
</g>
<text x="502.3" y="446.4" class="R">p-p38</text>
<text x="502.3" y="465.8" class="R">p38</text>
<text x="502.3" y="487" class="R">p-Akt</text>
<text x="502.3" y="507.5" class="R">Akt</text>
<text x="502.3" y="528" class="R">Actin</text>
</g>
</g>
<path d="M0 0H520V595H0ZM1.2 1.1V593.2H518.8V1.1Z" fill="#000" fill-rule="evenodd"/>
</svg></body></html>
